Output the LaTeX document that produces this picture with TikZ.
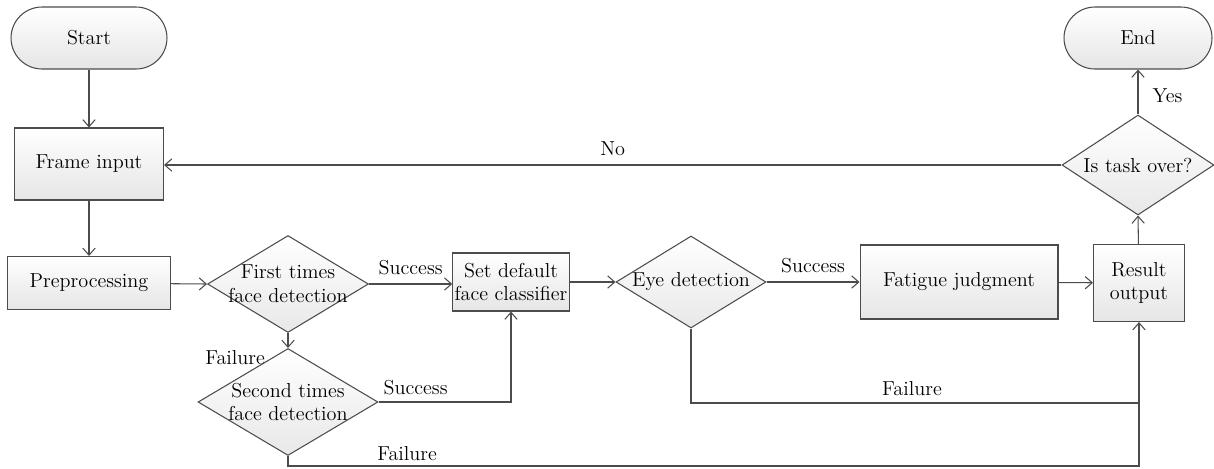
\documentclass[tikz,border=0pt]{standalone}
\usetikzlibrary{arrows.meta,shapes.geometric}

\begin{document}
\begin{tikzpicture}[
  x=0.02cm, y=-0.02cm,
  >={Straight Barb[length=4pt,width=7pt]},
  every node/.style={font=\fontsize{11.5}{13.5}\selectfont},
  line/.style={draw=black!70, line width=0.6pt},
  box/.style={line, rectangle, top color=white, bottom color=black!10, inner sep=1pt, align=center},
  term/.style={box, rounded corners=0.62cm, minimum width=3.0cm, minimum height=1.24cm},
  dec/.style={line, diamond, top color=white, bottom color=black!9, inner sep=0pt},
  lab/.style={fill=none, inner sep=2pt}
]
\useasboundingbox (0,0) rectangle (1214,468);

% Nodes
\node[term, minimum width=3.12cm] (start) at (89,38) {Start};
\node[box, minimum width=2.98cm, minimum height=1.44cm] (frame) at (89,164) {Frame input};
\node[box, minimum width=3.26cm, minimum height=1.06cm] (prep) at (89,283) {Preprocessing};

\node[dec, minimum width=3.22cm, minimum height=1.94cm,
  label={[align=center]center:First times\\face detection}] (first) at (288,284) {};
\node[dec, minimum width=3.6cm, minimum height=2.14cm,
  label={[align=center]center:Second times\\face detection}] (second) at (288,402) {};

\node[box, minimum width=2.32cm, minimum height=1.16cm] (setdef) at (511,282) {Set default\\face classifier};
\node[dec, minimum width=3.0cm, minimum height=1.84cm,
  label={center:Eye detection}] (eye) at (691,282) {};
\node[box, minimum width=3.96cm, minimum height=1.48cm] (fatigue) at (959,282) {Fatigue judgment};
\node[box, minimum width=1.82cm, minimum height=1.54cm] (result) at (1139,283) {Result\\output};

\node[dec, minimum width=3.04cm, minimum height=2.0cm,
  label={center:Is task over?}] (ask) at (1138,165) {};
\node[term, minimum width=2.96cm] (end) at (1138,38) {End};

\coordinate (j1) at (1139,403);
\coordinate (j2) at (1139,466);

% Arrows + labels
\draw[line, ->] (start) -- (frame);
\draw[line, ->] (frame) -- (prep);
\draw[line, ->] (prep) -- (first.west);
\draw[line, ->] (first.east) -- (first.east -| setdef.west)
  node[lab, midway, above, yshift=3pt] {Success};
\draw[line, ->] (first.south) -- (second.north)
  node[lab, at end, below left, xshift=-0.38cm, yshift=1pt] {Failure};
\draw[line, ->] (second.east) -| (setdef.south)
  node[lab, pos=0.14, above, yshift=2pt] {Success};
\draw[line, ->] (setdef) -- (eye.west);
\draw[line, ->] (eye.east) -- (fatigue.west)
  node[lab, midway, above, yshift=3pt] {Success};
\draw[line, ->] (fatigue) -- (result);
\draw[line] (eye.south) |- (j1)
  node[lab, pos=0.75, above, yshift=2pt, xshift=-0.06cm] {Failure};
\draw[line, ->] (second.south) |- node[lab, pos=0.57, above, yshift=1pt] {Failure} (j2)
  -- (result.south);
\draw[line, ->] (result) -- (ask.south);
\draw[line, ->] (ask.north) -- (end)
  node[lab, midway, right, xshift=6pt, yshift=-2pt] {Yes};
\draw[line, ->] (ask.west) -- (ask.west -| frame.east)
  node[lab, midway, above, yshift=3pt] {No};

\end{tikzpicture}
\end{document}
